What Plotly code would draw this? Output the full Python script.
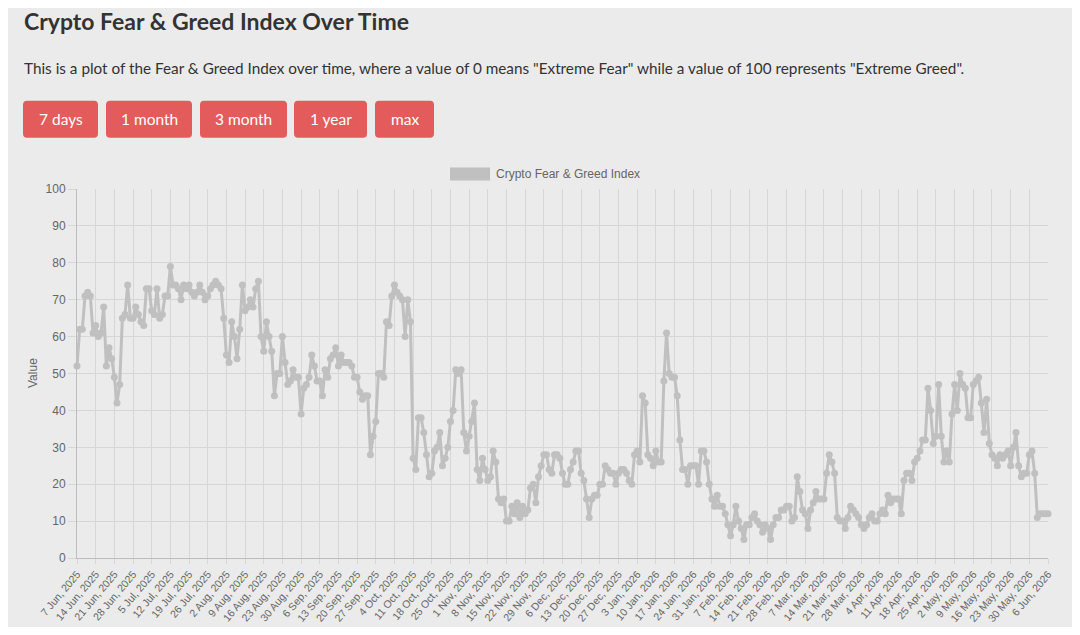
import pandas as pd
import plotly.graph_objects as go

# daily Fear & Greed values, 7 Jun 2025 -> 6 Jun 2026, one list per month
jun_2025 = [52, 62, 62, 71, 72, 71, 61, 63, 60, 61, 68, 52, 57, 54, 49, 42, 47, 65, 66, 74,
            65, 65, 68, 66]
jul_2025 = [64, 63, 73, 73, 67, 66, 73, 65, 66, 71, 71, 79, 74, 74, 73, 70, 74, 73, 74, 72,
            71, 72, 74, 72, 70, 71, 73, 74, 75, 74, 73]
aug_2025 = [65, 55, 53, 64, 60, 54, 62, 74, 67, 68, 70, 68, 73, 75, 60, 56, 64, 60, 56, 44,
            50, 50, 60, 53, 47, 48, 51, 49, 49, 39, 46]
sep_2025 = [47, 49, 55, 52, 48, 48, 44, 51, 49, 54, 55, 57, 52, 55, 53, 53, 53, 52, 49, 49,
            45, 43, 44, 44, 28, 33, 37, 50, 50, 49]
oct_2025 = [64, 63, 71, 74, 72, 71, 70, 60, 70, 64, 27, 24, 38, 38, 34, 28, 22, 23, 29, 30,
            34, 25, 27, 30, 37, 40, 51, 50, 51, 34, 29]
nov_2025 = [33, 37, 42, 24, 21, 27, 24, 21, 22, 29, 26, 16, 15, 16, 10, 10, 14, 12, 15, 11,
            14, 12, 13, 19, 20, 15, 22, 25, 28, 28]
dec_2025 = [24, 23, 28, 28, 27, 23, 20, 20, 24, 26, 29, 29, 23, 21, 16, 11, 16, 17, 17, 20,
            20, 25, 24, 23, 23, 20, 23, 24, 24, 23, 21]
jan_2026 = [20, 28, 29, 26, 44, 42, 28, 27, 25, 29, 26, 26, 48, 61, 50, 49, 49, 44, 32, 24,
            24, 20, 25, 25, 25, 20, 29, 29, 26, 20, 16]
feb_2026 = [14, 17, 14, 14, 12, 9, 6, 9, 14, 10, 8, 5, 9, 9, 11, 12, 10, 9, 7, 9,
            8, 5, 9, 11, 11, 13, 13, 14]
mar_2026 = [14, 10, 11, 22, 18, 13, 12, 8, 13, 15, 18, 16, 16, 16, 23, 28, 26, 23, 11, 10,
            10, 8, 11, 14, 13, 12, 11, 9, 8, 9, 11]
apr_2026 = [12, 10, 10, 12, 13, 12, 17, 15, 16, 16, 16, 12, 21, 23, 23, 21, 26, 27, 29, 32,
            32, 46, 40, 31, 33, 47, 33, 26, 29, 26]
may_2026 = [39, 47, 40, 50, 47, 46, 38, 38, 47, 48, 49, 42, 34, 43, 31, 28, 27, 25, 28, 27,
            28, 29, 25, 30, 34, 25, 22, 23, 23, 28, 29]
jun_2026 = [23, 11, 12, 12, 12, 12]

values = (jun_2025 + jul_2025 + aug_2025 + sep_2025 + oct_2025 + nov_2025 + dec_2025
          + jan_2026 + feb_2026 + mar_2026 + apr_2026 + may_2026 + jun_2026)

# category labels, one per day
dates = pd.date_range("2025-06-07", periods=len(values), freq="D")
labels = [f"{d.day} {d.strftime('%b')}, {d.year}" for d in dates]
tick_labels = labels[::7]

button_labels = ["7 days", "1 month", "3 month", "1 year", "max"]
series_name = "Crypto Fear & Greed Index"
title_text = "Crypto Fear & Greed Index Over Time"
intro_text = ('This is a plot of the Fear & Greed Index over time, where a value of 0 means '
              '"Extreme Fear" while a value of 100 represents "Extreme Greed".')

# page geometry in window pixels; the html body adds an 8px margin
OFF = 8
W, H = 1080 - 2 * OFF, 635 - 2 * OFF
L, R, T, B = 77, 1048, 188.5, 558.5
BG = "#ebebeb"
RED = "#e45b5b"
GREY = "#c0c0c0"


def px(x):
    return (x - L) / (R - L)


def py(y):
    return (B - y) / (B - T)


def rounded_rect(x0, y0, x1, y1, r=4):
    X0, X1, Yt, Yb = px(x0), px(x1), py(y0), py(y1)
    rx, ry = r / (R - L), r / (B - T)
    return (f"M {X0 + rx},{Yt} L {X1 - rx},{Yt} Q {X1},{Yt} {X1},{Yt - ry} "
            f"L {X1},{Yb + ry} Q {X1},{Yb} {X1 - rx},{Yb} L {X0 + rx},{Yb} "
            f"Q {X0},{Yb} {X0},{Yb + ry} L {X0},{Yt - ry} Q {X0},{Yt} {X0 + rx},{Yt} Z")


fig = go.Figure()
fig.add_trace(go.Scatter(
    x=labels, y=values,
    mode="lines+markers",
    name=series_name,
    line=dict(color=GREY, width=3),
    marker=dict(size=7, color=GREY),
    cliponaxis=False,
    showlegend=False,
    hovertemplate="%{x}<br>%{y}<extra></extra>",
))

shapes = []
annotations = []

# heading + intro
annotations.append(dict(text=f"<b>{title_text}</b>", x=px(22), y=py(20), xref="paper", yref="paper",
                        xanchor="left", yanchor="middle", showarrow=False,
                        font=dict(family="Lato", size=23, color="#333333")))
annotations.append(dict(text=intro_text, x=px(22), y=py(67), xref="paper", yref="paper",
                        xanchor="left", yanchor="middle", showarrow=False,
                        font=dict(family="Lato", size=15.3, color="#333333")))

# range buttons (drawn, not interactive)
button_x = [(23, 98), (106, 192), (200, 287), (294, 367), (375, 434)]
for lab, (x0, x1) in zip(button_labels, button_x):
    shapes.append(dict(type="path", path=rounded_rect(x0, 100, x1, 137), xref="paper", yref="paper",
                       fillcolor=RED, line=dict(width=0)))
    annotations.append(dict(text=lab, x=px((x0 + x1) / 2), y=py(118), xref="paper", yref="paper",
                            xanchor="center", yanchor="middle", showarrow=False,
                            font=dict(family="Lato", size=15.5, color="white")))

# chart.js style legend box
shapes.append(dict(type="rect", x0=px(450), x1=px(490), y0=py(180), y1=py(167), xref="paper", yref="paper",
                   fillcolor=GREY, line=dict(width=0)))
annotations.append(dict(text=series_name, x=px(494), y=py(173.5), xref="paper", yref="paper",
                        xanchor="left", yanchor="middle", showarrow=False,
                        font=dict(family="Liberation Sans", size=12, color="#666666")))

# y axis title
annotations.append(dict(text="Value", x=px(33), y=py(373), xref="paper", yref="paper",
                        textangle=-90, xanchor="center", yanchor="middle", showarrow=False,
                        font=dict(family="Liberation Sans", size=12, color="#666666")))

fig.update_layout(
    width=W, height=H,
    margin=dict(l=L - OFF, r=W + OFF - R, t=T - OFF, b=H + OFF - B, pad=0, autoexpand=False),
    paper_bgcolor=BG, plot_bgcolor=BG,
    shapes=shapes, annotations=annotations,
    font=dict(family="Liberation Sans", size=12, color="#666666"),
    xaxis=dict(
        type="category", range=[0, len(values) - 1], automargin=False,
        tickmode="array", tickvals=tick_labels, ticktext=tick_labels,
        tickangle=-50, tickfont=dict(size=10.5), showgrid=True, gridcolor="#d6d6d6", gridwidth=1,
        ticks="outside", ticklen=5, tickcolor="#d6d6d6",
        showline=True, linecolor="#bdbdbd", linewidth=1, zeroline=False,
    ),
    yaxis=dict(
        range=[0, 100], dtick=10, automargin=False, showgrid=True, gridcolor="#d6d6d6", gridwidth=1,
        ticks="outside", ticklen=8, tickcolor="#d6d6d6",
        showline=True, linecolor="#bdbdbd", linewidth=1, zeroline=False,
    ),
)

fig.write_html("out.html")
